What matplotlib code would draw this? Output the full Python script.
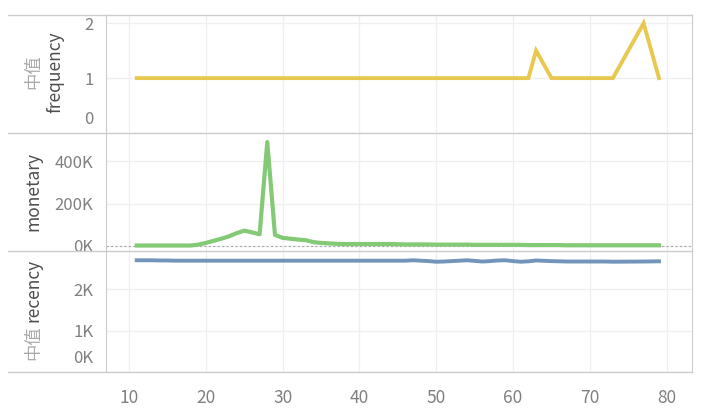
import numpy as np
import matplotlib
matplotlib.use("Agg")
from matplotlib import pyplot as plt
from matplotlib.lines import Line2D
from matplotlib.ticker import FuncFormatter

plt.rcParams['font.family'] = ['Noto Sans CJK SC', 'DejaVu Sans']

# ages present in the data (a few older ages are missing)
ages = list(range(11, 64)) + list(range(65, 74)) + [77, 79]

# median frequency per age
frequency = [1.0] * 52 + [1.5] + [1.0] * 9 + [2.0, 1.0]

# monetary per age (in K)
monetary_k = [2, 2, 2, 2, 2, 2, 2, 2, 6, 14, 24, 34, 45, 60, 72, 64, 55, 490, 52, 38,
              34, 30, 27, 18, 14, 12, 10, 9, 9, 9, 9, 9, 9, 9, 8, 7, 7, 7, 7, 6,
              6, 6, 6, 6, 5, 5, 5, 5, 5, 5, 5, 4, 4,
              4, 4, 3, 3, 3, 3, 3, 3, 3,
              3, 3]

# median recency per age (days)
recency = [2700, 2700, 2700, 2695, 2695, 2690, 2690, 2690, 2690, 2690, 2690, 2690, 2690,
           2690, 2690, 2690, 2690, 2690, 2690, 2690, 2690, 2690, 2690, 2690, 2690, 2690,
           2690, 2690, 2690, 2690, 2690, 2690, 2690, 2690, 2690, 2690, 2700, 2690, 2680,
           2665, 2670, 2680, 2690, 2700, 2685, 2670, 2680, 2695, 2700, 2680, 2665, 2675,
           2695,
           2680, 2675, 2670, 2670, 2670, 2670, 2670, 2670, 2665,
           2670, 2675]

x_ticks = [10, 20, 30, 40, 50, 60, 70, 80]

W, H = 723, 415
fig = plt.figure(figsize=(W / 100, H / 100), dpi=100)

left = 106 / W
width = (692 - 106) / W
ax_f = fig.add_axes([left, (H - 133) / H, width, 118 / H])
ax_m = fig.add_axes([left, (H - 251) / H, width, 118 / H])
ax_r = fig.add_axes([left, (H - 372) / H, width, 120 / H])

grid_c = '#efefef'
tick_c = '#808080'
tsize = 12

for ax in (ax_f, ax_m, ax_r):
    ax.set_xlim(7, 83.3)
    ax.set_xticks(x_ticks)
    ax.grid(True, color=grid_c, lw=0.9)
    ax.set_axisbelow(True)
    for s in ('top', 'bottom'):
        ax.spines[s].set_visible(False)
    for s in ('left', 'right'):
        ax.spines[s].set_color('#cccccc')
    ax.tick_params(length=0, labelsize=tsize, labelcolor=tick_c, pad=9)
    ax.set_facecolor('white')

ax_f.tick_params(labelbottom=False)
ax_m.tick_params(labelbottom=False)
ax_r.tick_params(axis='x', pad=12, labelsize=12.5)

# frequency
ax_f.plot(ages, frequency, color='#e8c84e', lw=2.8, solid_joinstyle='miter')
ax_f.set_ylim(0, 2.15)
ax_f.set_yticks([0, 1, 2])
ax_f.set_yticklabels(['', '1', '2'])
ax_f.annotate('0', xy=(0, 0), xycoords=('axes fraction', 'data'), xytext=(-9, 10),
              textcoords='offset points', ha='right', va='center', fontsize=tsize, color=tick_c)

# monetary
ax_m.plot(ages, np.array(monetary_k) * 1000, color='#84c976', lw=3.0)
ax_m.axhline(0, color='#aaaaaa', lw=0.8, ls=(0, (2, 2)), zorder=1)
ax_m.set_ylim(-24000, 533000)
ax_m.set_yticks([0, 200000, 400000])
ax_m.yaxis.set_major_formatter(FuncFormatter(lambda v, p: f"{v / 1000:.0f}K"))

# recency
ax_r.plot(ages, recency, color='#7194b8', lw=2.8)
ax_r.set_ylim(0, 2900)
ax_r.set_yticks([0, 1000, 2000])
ax_r.set_yticklabels(['', '1K', '2K'])
ax_r.annotate('0K', xy=(0, 0), xycoords=('axes fraction', 'data'), xytext=(-9, 10),
              textcoords='offset points', ha='right', va='center', fontsize=tsize, color=tick_c)

# horizontal separators across label strip
for y in (15, 133, 251.5, 372):
    fig.add_artist(Line2D([8 / W, 692 / W], [(H - y) / H] * 2, color='#cccccc', lw=1))

# axis titles
light = '#aaaaaa'
dark = '#4d4d4d'
fig.text(33 / W, (H - 72) / H, '中值', rotation=90, ha='center', va='center', fontsize=12.5, color=light)
fig.text(55 / W, (H - 72) / H, 'frequency', rotation=90, ha='center', va='center', fontsize=12.5, color=dark)
fig.text(33 / W, (H - 191) / H, 'monetary', rotation=90, ha='center', va='center', fontsize=12.5, color=dark)
fig.text(33 / W, (H - 290) / H, 'recency', rotation=90, ha='center', va='center', fontsize=12.5, color=dark)
fig.text(33 / W, (H - 343) / H, '中值', rotation=90, ha='center', va='center', fontsize=12.5, color=light)

fig.savefig('out.png', dpi=100, facecolor='white')
